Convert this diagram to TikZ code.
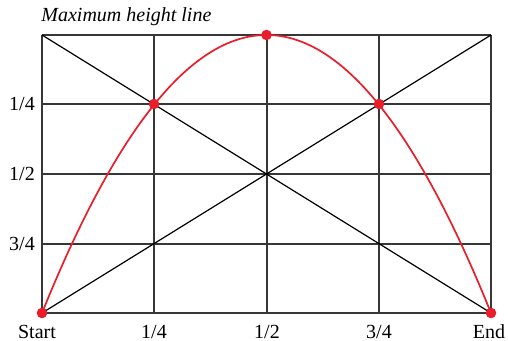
\documentclass[tikz,border=0pt]{standalone}
\usepackage{fontspec}
\setmainfont{Liberation Serif}
\usepackage{xcolor}
\usetikzlibrary{positioning}
\definecolor{curvered}{RGB}{232,30,42}
\definecolor{gridgray}{RGB}{55,55,55}

\begin{document}
\begin{tikzpicture}[x=0.5pt, y=-0.5pt,
    gridline/.style={gridgray, line width=0.85pt},
    diag/.style={black, line width=0.6pt},
    path/.style={curvered, line width=0.85pt},
    dot/.style={circle, fill=curvered, inner sep=0pt, minimum size=5.3pt},
    lbl/.style={font=\fontsize{10}{12}\selectfont, inner sep=0pt, anchor=base}]
\useasboundingbox (0,0) rectangle (508,341);
% corners of the grid
\coordinate (tl) at (42,35);
\coordinate (tr) at (491,35);
\coordinate (bl) at (42,313);
\coordinate (br) at (491,313);
% grid
\foreach \x in {42,154,267,379,491}
  \draw[gridline] (\x,35) -- (\x,313);
\foreach \y in {35,104,174,244,313}
  \draw[gridline] (42,\y) -- (491,\y);
\draw[diag] (tl) -- (br);
\draw[diag] (bl) -- (tr);
% trajectory
\draw[path] (bl) .. controls (191.7,-57.7) and (341.3,-57.7) .. (br);
\node[dot] (start) at (bl) {};
\node[dot] (q1) at (154,104) {};
\node[dot] (top) at (266.5,35) {};
\node[dot] (q3) at (379,104) {};
\node[dot] (end) at (br) {};
% labels
\node[lbl, anchor=base west, font=\fontsize{10}{12}\selectfont\itshape] (title) at (41,22) {Maximum height line};
\node[lbl] (y1) at (22,111) {1/4};
\node[lbl] (y2) at (22,181) {1/2};
\node[lbl] (y3) at (22,251) {3/4};
\node[lbl] (xs) at (37,339) {Start};
\node[lbl] (x1) at (154,339) {1/4};
\node[lbl] (x2) at (267,339) {1/2};
\node[lbl] (x3) at (379,339) {3/4};
\node[lbl] (xe) at (489,339) {End};
\end{tikzpicture}
\end{document}
